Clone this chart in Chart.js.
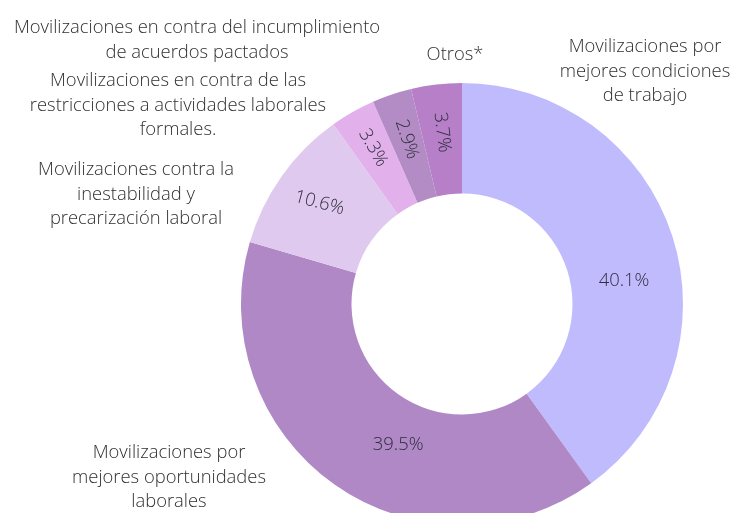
<!DOCTYPE html>
<html lang="es">
<head>
<meta charset="UTF-8">
<title>Movilizaciones</title>
<script src="https://cdn.jsdelivr.net/npm/chart.js"></script>
<style>
  html, body { margin: 0; padding: 0; background: #fff; overflow: hidden; }
  #wrap { position: relative; width: 745px; height: 545px; }
</style>
</head>
<body>
<div id="wrap"><canvas id="donut"></canvas></div>
<script>
// datos (porcentajes, en sentido horario desde arriba)
const categories = [
  'Movilizaciones por mejores condiciones de trabajo',
  'Movilizaciones por mejores oportunidades laborales',
  'Movilizaciones contra la inestabilidad y precarización laboral',
  'Movilizaciones en contra de las restricciones a actividades laborales formales.',
  'Movilizaciones en contra del incumplimiento de acuerdos pactados',
  'Otros*'
];
const values = [40.1, 39.5, 10.6, 3.3, 2.9, 3.7];
const valueLabels = ['40.1%', '39.5%', '10.6%', '3.3%', '2.9%', '3.7%'];
const categoryLines = [
  ['Movilizaciones por', 'mejores condiciones', 'de trabajo'],
  ['Movilizaciones por', 'mejores oportunidades', 'laborales'],
  ['Movilizaciones contra la', 'inestabilidad y', 'precarización laboral'],
  ['Movilizaciones en contra de las', 'restricciones a actividades laborales', 'formales.'],
  ['Movilizaciones en contra del incumplimiento', 'de acuerdos pactados'],
  ['Otros*']
];

const colors = ['#c0bbfd', '#b088c6', '#e0c9ee', '#e2b1ec', '#b38cc6', '#b77fc8'];

// ajustes de estilo de las etiquetas
const pctNudge = [[9.7, -2], [-10.9, -11], [0, 9], [0, 14], [0, 8], [0, 7]]; // [grados, px]
const pctRotation = [0, 0, 15, null, null, null]; // null = radial
const catOffset = [[183, -257], [-293, 149], [-326, -134], [-284, -223], [-265, -276], [-7, -249]];
const lineHeight = 24.6;

const labelPlugin = {
  id: 'labels',
  afterDraw(chart) {
    const ctx = chart.ctx;
    const arcs = chart.getDatasetMeta(0).data;
    const cx = arcs[0].x, cy = arcs[0].y;

    ctx.save();
    ctx.textAlign = 'center';
    ctx.textBaseline = 'middle';

    // porcentajes dentro del anillo
    ctx.font = '300 18.4px "Open Sans"';
    ctx.fillStyle = '#2f2e3d';
    arcs.forEach((arc, i) => {
      const p = arc.getProps(['startAngle', 'endAngle', 'innerRadius', 'outerRadius'], true);
      const mid = (p.startAngle + p.endAngle) / 2 + pctNudge[i][0] * Math.PI / 180;
      const r = (p.innerRadius + p.outerRadius) / 2 + pctNudge[i][1];
      const x = cx + Math.cos(mid) * r;
      const y = cy + Math.sin(mid) * r;
      let rot = pctRotation[i];
      rot = rot === null ? mid + Math.PI : rot * Math.PI / 180;
      ctx.save();
      ctx.translate(x, y);
      ctx.rotate(rot);
      ctx.fillText(valueLabels[i], 0, 0);
      ctx.restore();
    });

    // nombres de categorías
    ctx.font = '300 18.4px "Open Sans"';
    ctx.fillStyle = '#303030';
    categoryLines.forEach((lines, i) => {
      const x = cx + catOffset[i][0];
      const y0 = cy + catOffset[i][1];
      lines.forEach((line, j) => ctx.fillText(line, x, y0 + j * lineHeight));
    });
    ctx.restore();
  }
};

new Chart(document.getElementById('donut'), {
  type: 'doughnut',
  data: {
    labels: categories,
    datasets: [{
      data: values,
      backgroundColor: colors,
      borderWidth: 0,
      hoverOffset: 0
    }]
  },
  options: {
    responsive: true,
    maintainAspectRatio: false,
    animation: false,
    cutout: '50%',
    layout: { padding: { left: 241, right: 62, top: 83, bottom: 20 } },
    plugins: {
      legend: { display: false },
      tooltip: { enabled: false }
    }
  },
  plugins: [labelPlugin]
});
</script>
</body>
</html>
